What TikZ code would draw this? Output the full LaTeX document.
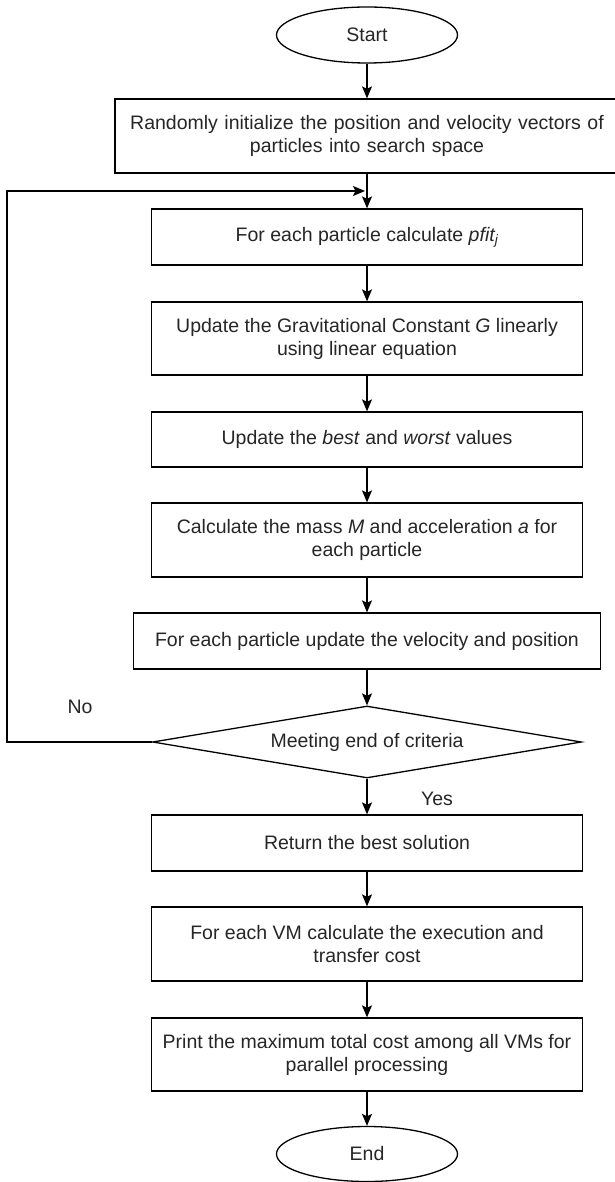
\documentclass[tikz,border=0pt]{standalone}
\usepackage{fontspec}
\setmainfont{Liberation Sans}
\usetikzlibrary{shapes.geometric,arrows.meta,calc}
\begin{document}
\begin{tikzpicture}[x=1pt,y=-1pt,
  every node/.style={font=\fontsize{19.5}{23}\selectfont, text=black!85},
  box/.style={draw=black, line width=1.3pt, rectangle, minimum width=431pt, minimum height=56pt, inner sep=0pt, align=center},
  tallbox/.style={box, minimum height=74pt},
  term/.style={draw=black, ellipse, line width=1.3pt, minimum width=181pt, minimum height=56pt, inner sep=0pt},
  decision/.style={draw=black, diamond, shape aspect=6, line width=1.3pt, minimum width=429pt, minimum height=72pt, inner sep=0pt},
  arr/.style={draw=black, line width=1.3pt, -{Stealth[length=12pt,width=10pt,inset=2.5pt]}},
  lbl/.style={inner sep=0pt}]
\fill[white] (0,0) rectangle (614,1182);
\useasboundingbox (0,0) rectangle (614,1182);

\node[term] (start) at (367,35) {Start};
\node[tallbox, minimum width=540pt, text width=540pt] (b1) at (385,136) {\hspace*{-36pt}Randomly initialize the position and velocity vectors of\\\hspace*{-36pt}particles into search space};
\node[box] (b2) at (367,237) {For each particle calculate \textit{pfit\textsubscript{j}}};
\node[tallbox, minimum height=73pt] (b3) at (367,338.5) {Update the Gravitational Constant \textit{G} linearly\\using linear equation};
\node[box, minimum height=55pt] (b4) at (367,439.5) {Update the \textit{best} and \textit{worst} values};
\node[tallbox] (b5) at (367,540) {Calculate the mass \textit{M} and acceleration \textit{a} for\\each particle};
\node[box, minimum width=467pt] (b6) at (367,641) {For each particle update the velocity and position};
\node[decision] (dec) at (367,742) {Meeting end of criteria};
\node[box] (b7) at (367,843) {Return the best solution};
\node[tallbox] (b8) at (367,944) {For each VM calculate the execution and\\transfer cost};
\node[tallbox, minimum height=73pt] (b9) at (367,1054.5) {Print the maximum total cost among all VMs for\\parallel processing};
\node[term, minimum height=55pt] (end) at (367,1154) {End};

\node[lbl] (no) at (80,707) {No};
\node[lbl] (yes) at (437,799) {Yes};

\coordinate (b1top) at (start |- b1.north);
\coordinate (b1bot) at (start |- b1.south);
\coordinate (join) at ($(b1bot)!0.5!(b2.north)$);
\coordinate (corner) at (7,742);

\draw[arr] (start) -- (b1top);
\draw[arr] (b1bot) -- (b2);
\draw[arr] (b2) -- (b3);
\draw[arr] (b3) -- (b4);
\draw[arr] (b4) -- (b5);
\draw[arr] (b5) -- (b6);
\draw[arr] (b6) -- (dec);
\draw[arr] (dec) -- (b7);
\draw[arr] (b7) -- (b8);
\draw[arr] (b8) -- (b9);
\draw[arr] (b9) -- (end);
\draw[arr, shorten >=2pt] (dec.west) -- (corner) |- (join);
\end{tikzpicture}
\end{document}
